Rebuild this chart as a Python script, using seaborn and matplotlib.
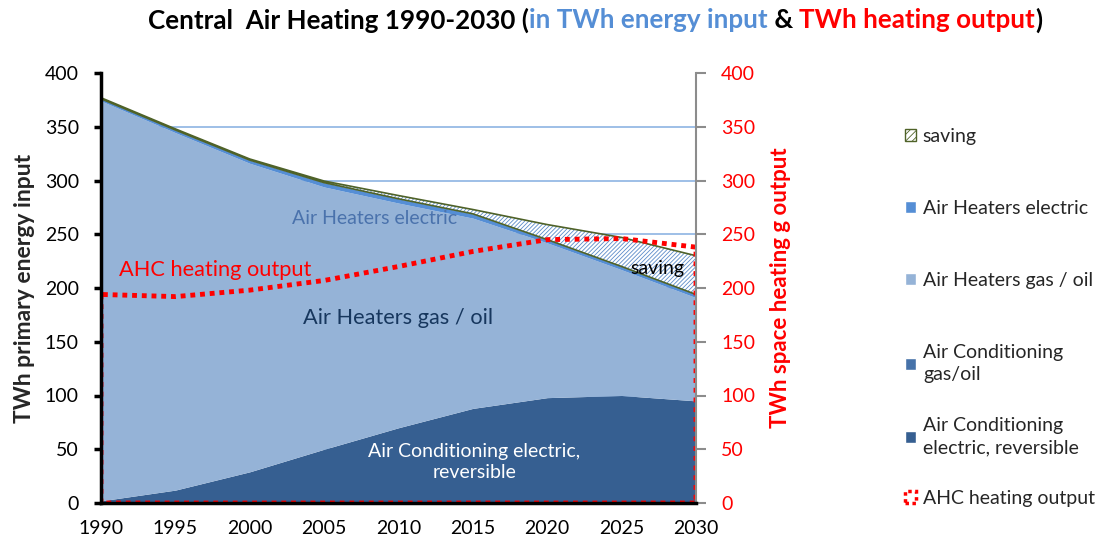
import matplotlib
matplotlib.use("Agg")
import matplotlib.pyplot as plt
import seaborn as sns
import numpy as np
from matplotlib.patches import Patch

# data (TWh)
years = [1990, 1995, 2000, 2005, 2010, 2015, 2020, 2025, 2030]
ac_electric = [2, 12, 29, 50, 70, 88, 98, 100, 95]
ac_gas_oil = [0, 0, 0, 0, 0, 0, 0, 0, 0]
ah_gas_oil = [372, 332.5, 287, 244, 209, 177, 144, 117, 96]
ah_electric = [2, 2.5, 3, 4, 4, 4, 3, 3, 3]
saving = [1, 1, 1, 1.5, 3, 4, 14, 27, 36]
ahc_output = [194, 192, 198, 207, 220, 234, 245, 246, 238]

yticks = [0, 50, 100, 150, 200, 250, 300, 350, 400]

# colours
c_ac_el = "#365F91"
c_ac_gas = "#4672A9"
c_ah_gas = "#95B3D7"
c_ah_el = "#558ED5"
c_hatch = "#5B8BC9"
c_edge = "#4F6228"
c_red = "#FF0000"

sns.set_style("white")
plt.rcParams["font.family"] = ["Lato", "DejaVu Sans"]
plt.rcParams["hatch.linewidth"] = 0.6

fig = plt.figure(figsize=(10.99, 5.49), dpi=100)
ax = fig.add_axes([101 / 1099, 46 / 549, 595 / 1099, 430 / 549])
ax2 = ax.twinx()

# stacked areas
x = np.array(years)
layers = [ac_electric, ac_gas_oil, ah_gas_oil, ah_electric]
colors = [c_ac_el, c_ac_gas, c_ah_gas, c_ah_el]
base = np.zeros(len(years))
for vals, col in zip(layers, colors):
    top = base + np.array(vals)
    ax.fill_between(x, base, top, color=col, lw=0, zorder=2)
    base = top
top_all = base + np.array(saving)
ax.fill_between(x, base, top_all, facecolor="white", edgecolor=c_hatch,
                hatch="////////", lw=0, zorder=2)
ax.fill_between(x, base, top_all, facecolor="none", edgecolor=c_edge,
                lw=1.2, zorder=3)

ax.set_xlim(1990, 2030)
ax.set_ylim(0, 400)
ax.set_xticks(years)
ax.set_yticks(yticks)
ax.yaxis.grid(True, color="#8EB4E3", lw=1.2)
ax.set_axisbelow(True)
ax.get_ygridlines()[-1].set_visible(False)

# AHC heating output on secondary axis (below its spines so the
# left/bottom edges hide under the black axis lines)
ax2.fill_between(x, 0, ahc_output, facecolor="none", edgecolor=c_red,
                 linestyle=(0, (1, 1)), lw=3.5, zorder=2)
ax2.set_ylim(0, 400)
ax2.set_yticks(yticks)

for a in (ax, ax2):
    for s in a.spines.values():
        s.set_visible(False)
for side in ("left", "bottom"):
    ax2.spines[side].set_visible(True)
    ax2.spines[side].set_color("black")
    ax2.spines[side].set_linewidth(2.5)
ax2.spines["right"].set_visible(True)
ax2.spines["right"].set_color("#8C8C8C")
ax2.spines["right"].set_linewidth(1.5)

ax.tick_params(axis="y", direction="out", length=5, width=2.5,
               color="black", labelsize=14, labelcolor="black", pad=11)
ax.tick_params(axis="x", direction="out", length=5, width=2.5,
               color="black", labelsize=14, labelcolor="black", pad=7)
ax2.tick_params(axis="y", direction="out", length=7, width=1.5,
                color="#8C8C8C", labelsize=14, labelcolor=c_red, pad=11)
ax.set_ylabel("TWh primary energy input", fontsize=16.5, fontweight="bold",
              labelpad=7)
ax2.set_ylabel("TWh space heating g output", fontsize=16, fontweight="bold",
               color=c_red, labelpad=11)

# labels inside the chart
ax.text(2008.4, 265, "Air Heaters electric", ha="center", va="center",
        fontsize=14, color="#4A72AC", zorder=5)
ax.text(1997.7, 216.5, "AHC heating output", ha="center", va="center",
        fontsize=15.7, color=c_red, zorder=5)
ax.text(2010, 172, "Air Heaters gas / oil", ha="center", va="center",
        fontsize=15.7, color="#17375E", zorder=5)
ax.text(2015.1, 38, "Air Conditioning electric,\nreversible", ha="center",
        va="center", fontsize=14, color="white", linespacing=1.25, zorder=5)
ax.text(2027.4, 218.5, "saving", ha="center", va="center", fontsize=14,
        color="black", zorder=5)

# legend, in two blocks to follow the spacing of the reference
handles1 = [
    Patch(facecolor="white", edgecolor=c_edge, hatch="/////", lw=1),
    Patch(facecolor=c_ah_el),
    Patch(facecolor=c_ah_gas),
]
labels1 = ["saving", "Air Heaters electric", "Air Heaters gas / oil"]
handles2 = [
    Patch(facecolor=c_ac_gas),
    Patch(facecolor=c_ac_el),
    Patch(facecolor="none", edgecolor=c_red, linestyle=(0, (1, 1)), lw=2.5),
]
labels2 = ["Air Conditioning\ngas/oil", "Air Conditioning\nelectric, reversible",
           "AHC heating output"]
leg_kw = dict(loc="upper left", frameon=False, fontsize=14, handlelength=0.57,
              handleheight=0.57, handletextpad=0.35, borderaxespad=0,
              borderpad=0)
fig.legend(handles1, labels1, bbox_to_anchor=(905 / 1099, 1 - 128 / 549),
           labelspacing=2.83, **leg_kw)
leg2 = fig.legend(handles2, labels2, bbox_to_anchor=(905 / 1099, 1 - 344 / 549),
                  labelspacing=1.76, **leg_kw)
for t in leg2.get_texts():
    t.set_linespacing(1.35)

# multi-coloured title
parts = [("Central  Air Heating 1990-2030 (", "black"),
         ("in TWh energy input", "#558ED5"),
         (" & ", "black"),
         ("TWh heating output", c_red),
         (")", "black")]
fig.canvas.draw()
renderer = fig.canvas.get_renderer()
texts = []
widths = []
for s, col in parts:
    t = fig.text(0, 1 - 20 / 549, s, color=col, fontsize=18.7,
                 fontweight="bold", va="center", ha="left")
    texts.append(t)
    widths.append(t.get_window_extent(renderer).width / fig.bbox.width)
xpos = 595 / 1099 - sum(widths) / 2
for t, w in zip(texts, widths):
    t.set_x(xpos)
    xpos += w

fig.savefig("out.png", dpi=100)
